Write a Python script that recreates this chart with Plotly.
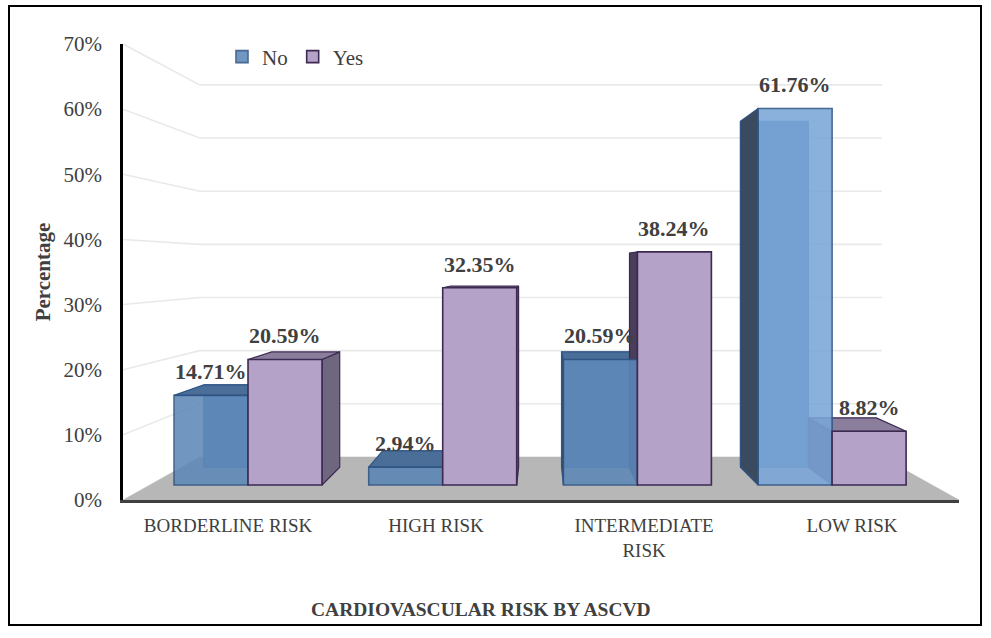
import plotly.graph_objects as go

# ---------------- data ----------------
categories = ["BORDERLINE RISK", "HIGH RISK", "INTERMEDIATE<br>RISK", "LOW RISK"]
no_values = [14.71, 2.94, 20.59, 61.76]
yes_values = [20.59, 32.35, 38.24, 8.82]
y_ticks = [0, 10, 20, 30, 40, 50, 60, 70]
series_names = ["No", "Yes"]

# ---------------- layout / perspective settings ----------------
W, H = 991, 638
ML, MR, MT, MB = 123, 32, 44, 138
X_RANGE = [-0.505, 3.514]
Y_RANGE = [0, 70]
VX, VY = 1.5, 35.9            # vanishing point (data units)
T_FRONT, T_BACK, T_FLOOR = 0.064, 0.14, 0.184
BAR_W = 0.38                  # bar width in category units
FONT = "Liberation Serif"
TXT = "#404040"

NO_FRONT = ["#5E89B9", "#5A84B3", "#5D88B8", "#7AA6D8"]
NO_EDGE = "#2F5585"
NO_TOP = "#4A6E98"
NO_SIDE = "#3A4A5F"
NO_BACK = "#557FAE"
YES_FRONT = "#B4A2C8"
YES_EDGE = "#3C2A52"
YES_TOP = "#8A7E9C"
YES_SIDE_R = "#6F6680"
YES_SIDE_L = "#4A3E5A"


def proj(x, v, t):
    return x + t * (VX - x), v + t * (VY - v)


def poly(pts, fill, line, width=1.2, opacity=1.0):
    xs = [p[0] for p in pts] + [pts[0][0]]
    ys = [p[1] for p in pts] + [pts[0][1]]
    return go.Scatter(x=xs, y=ys, mode="lines", fill="toself", fillcolor=fill,
                      line=dict(color=line, width=width), opacity=opacity,
                      hoverinfo="skip", showlegend=False, xaxis="x", yaxis="y")


fig = go.Figure()

# back-wall gridlines (perspective)
gx, gy = [], []
for g in y_ticks[1:]:
    for (x, t) in [(X_RANGE[0], 0), (X_RANGE[0], T_FLOOR), (X_RANGE[1], T_FLOOR)]:
        px, py = proj(x, g, t)
        gx.append(px)
        gy.append(py)
    gx.append(None)
    gy.append(None)
fig.add_trace(go.Scatter(x=gx, y=gy, mode="lines", line=dict(color="#E9E9E9", width=1.6),
                         hoverinfo="skip", showlegend=False))

# floor
floor = [proj(X_RANGE[0], 0, 0), proj(X_RANGE[1], 0, 0),
         proj(X_RANGE[1], 0, T_FLOOR), proj(X_RANGE[0], 0, T_FLOOR)]
fig.add_trace(poly(floor, "#B7B7B7", "#B7B7B7", width=0.5))

# hidden / side / top faces
bars = []
for i in range(len(categories)):
    bars.append(("No", i - BAR_W, i, no_values[i], i))
    bars.append(("Yes", i, i + BAR_W, yes_values[i], i))

for name, x0, x1, v, i in bars:
    F = lambda x, y: proj(x, y, T_FRONT)
    B = lambda x, y: proj(x, y, T_BACK)
    if name == "No":
        fig.add_trace(poly([B(x0, 0), B(x1, 0), B(x1, v), B(x0, v)], NO_BACK, "#3D6594", 1.0))
        edge, top, sideL, sideR = NO_EDGE, NO_TOP, NO_SIDE, NO_SIDE
    else:
        edge, top, sideL, sideR = YES_EDGE, YES_TOP, YES_SIDE_L, YES_SIDE_R
    if VX > x1:
        fig.add_trace(poly([F(x1, 0), F(x1, v), B(x1, v), B(x1, 0)], sideR, edge))
    if VX < x0:
        fig.add_trace(poly([F(x0, 0), F(x0, v), B(x0, v), B(x0, 0)], sideL, edge))
    if v < VY:
        fig.add_trace(poly([F(x0, v), F(x1, v), B(x1, v), B(x0, v)], top, edge))

# front faces as bars (on an overlaid subplot so they sit above the faces)
for name, vals, colors, edge, op in [("No", no_values, NO_FRONT, NO_EDGE, 0.88),
                                     ("Yes", yes_values, YES_FRONT, YES_EDGE, 1.0)]:
    off = -BAR_W / 2 if name == "No" else BAR_W / 2
    xs, bases, lens, widths = [], [], [], []
    for i, v in enumerate(vals):
        c = i + off
        cx, base = proj(c, 0, T_FRONT)
        _, topv = proj(c, v, T_FRONT)
        xs.append(cx)
        bases.append(base)
        lens.append(topv - base)
        widths.append(BAR_W * (1 - T_FRONT))
    fig.add_trace(go.Bar(x=xs, y=lens, base=bases, width=widths, name=name,
                         marker=dict(color=colors, line=dict(color=edge, width=1.6)),
                         opacity=op, hoverinfo="skip", xaxis="x2", yaxis="y2"))
    for i, v in enumerate(vals):
        fig.add_annotation(x=xs[i], y=bases[i] + lens[i], xref="x2", yref="y2",
                           text=f"{v:.2f}%",
                           showarrow=False, yanchor="bottom", yshift=9,
                           font=dict(family=FONT, size=22, color=TXT, weight="bold"))

pw, ph = W - ML - MR, H - MT - MB

# x-axis title as annotation
fig.add_annotation(x=(481 - ML) / pw, y=(H - MB - 609) / ph,
                   xref="paper", yref="paper", showarrow=False,
                   xanchor="center", yanchor="middle",
                   text="<b>CARDIOVASCULAR RISK BY ASCVD</b>",
                   font=dict(family=FONT, size=19.5, color=TXT))

# outer border
fig.add_shape(type="rect", xref="paper", yref="paper",
              x0=(9 - ML) / pw, x1=(981 - ML) / pw,
              y0=(H - MB - 625) / ph, y1=(H - MB - 6) / ph,
              line=dict(color="black", width=2))

fig.update_layout(
    width=W, height=H, margin=dict(l=ML, r=MR, t=MT, b=MB),
    paper_bgcolor="white", plot_bgcolor="white",
    barmode="overlay",
    font=dict(family=FONT, color=TXT),
    showlegend=True,
    legend=dict(orientation="h", x=(222 - ML) / pw, y=(H - MB - 57) / ph,
                xanchor="left", yanchor="middle", font=dict(family=FONT, size=21, color=TXT),
                bgcolor="rgba(0,0,0,0)", itemwidth=30, tracegroupgap=0),
    xaxis=dict(range=X_RANGE, tickvals=list(range(len(categories))), ticktext=categories,
               showgrid=False, zeroline=False, showline=True, linecolor="#404040", linewidth=3,
               ticks="", ticklabelstandoff=6,
               tickfont=dict(family=FONT, size=19, color=TXT), fixedrange=True),
    yaxis=dict(range=Y_RANGE, tickvals=y_ticks, ticktext=[f"{t}%" for t in y_ticks],
               showgrid=False, zeroline=False, showline=True, linecolor="black", linewidth=2.5,
               ticks="", ticklabelstandoff=14, tickfont=dict(family=FONT, size=21, color=TXT),
               title=dict(text="<b>Percentage</b>", standoff=8,
                          font=dict(family=FONT, size=21, color=TXT)), fixedrange=True),
    xaxis2=dict(range=X_RANGE, overlaying="x", visible=False, fixedrange=True),
    yaxis2=dict(range=Y_RANGE, overlaying="y", visible=False, fixedrange=True),
)

fig.write_html("out.html")
